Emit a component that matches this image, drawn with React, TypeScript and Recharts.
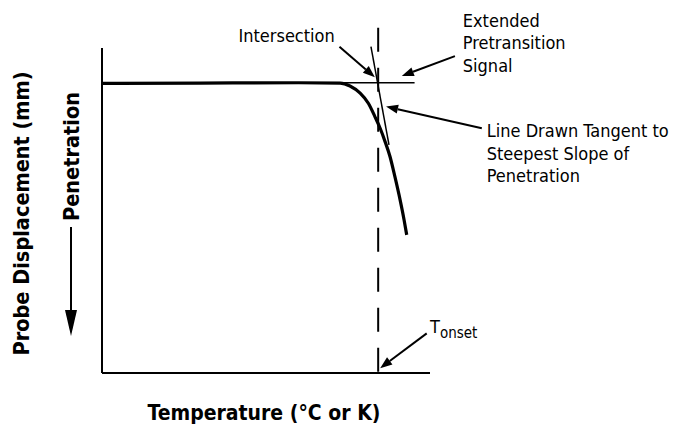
import { LineChart, Line, XAxis, YAxis, ReferenceLine, ReferenceDot } from "recharts";

// probe curve (x: temperature, y: displacement, both 0-100 scale)
const temperature = [0, 30, 60, 72.6, 75.6, 78.7, 81.2, 83.2, 84.8, 86.3, 87.8, 89.3, 90.9, 92.1, 92.9];
const displacement = [89.1, 89.2, 89.3, 89.2, 88.3, 86.1, 83.0, 78.9, 75.3, 71.2, 66.6, 60.4, 53.2, 47.1, 42.5];

// construction lines
const pretransitionExtension = [
  { x: 72, y: 89.3 },
  { x: 95.3, y: 89.3 },
];
const tangentLine = [
  { x: 82.0, y: 100.4 },
  { x: 87.5, y: 70.2 },
];
const onsetTemperature = 84.2;
const onsetLineRange = [106.2, 0];

// callouts
const calloutLabels = [
  { id: "intersection", lines: ["Intersection"], x: 41.6, y: 102.0 },
  { id: "signal", lines: ["Extended", "Pretransition", "Signal"], x: 110.0, y: 106.5 },
  { id: "tangent", lines: ["Line Drawn Tangent to", "Steepest Slope of", "Penetration"], x: 117.3, y: 72.6 },
];
const calloutArrows = [
  { id: "intersection", from: { x: 72.4, y: 100.4 }, to: { x: 83.2, y: 91.0 } },
  { id: "signal", from: { x: 107.6, y: 97.5 }, to: { x: 91.4, y: 91.4 } },
  { id: "tangent", from: { x: 115.8, y: 75.3 }, to: { x: 86.6, y: 82.0 } },
  { id: "onset", from: { x: 99.0, y: 12.2 }, to: { x: 84.8, y: 1.5 } },
];
const onsetLabel = { x: 100.0, y: 12.2 };

const chartData = temperature.map((t, i) => ({ t, d: displacement[i] }));

const FONT = '"DejaVu Sans Condensed", "DejaVu Sans", sans-serif';

function Arrow(props: any) {
  const { x1, y1, x2, y2 } = props;
  const len = Math.hypot(x2 - x1, y2 - y1) || 1;
  const ux = (x2 - x1) / len;
  const uy = (y2 - y1) / len;
  const head = 12;
  const half = 4.5;
  const bx = x2 - ux * head;
  const by = y2 - uy * head;
  return (
    <g>
      <line x1={x1} y1={y1} x2={bx} y2={by} stroke="#000" strokeWidth={2} />
      <polygon
        points={`${x2},${y2} ${bx - uy * half},${by + ux * half} ${bx + uy * half},${by - ux * half}`}
        fill="#000"
      />
    </g>
  );
}

function CalloutText({ cx, cy, lines }: { cx?: number; cy?: number; lines: string[] }) {
  return (
    <text x={cx} y={cy} fontFamily={FONT} fontSize={18} fill="#000">
      {lines.map((line, i) => (
        <tspan key={line} x={cx} dy={i === 0 ? 0 : 22.5}>
          {line}
        </tspan>
      ))}
    </text>
  );
}

function OnsetText({ cx, cy }: { cx?: number; cy?: number }) {
  return (
    <text x={cx} y={cy} fontFamily={FONT} fontSize={18} fill="#000">
      T
      <tspan fontSize={15} dy={4.5}>
        onset
      </tspan>
    </text>
  );
}

function LeftTitles(props: any) {
  const { x, y } = props.viewBox ?? { x: 0, y: 48 };
  const probeY = y + 165.5;
  const penY = y + 108.5;
  return (
    <g fontFamily={FONT} fontWeight="bold" fontSize={21.5} fill="#000">
      <text x={x + 28.5} y={probeY} textAnchor="middle" transform={`rotate(-90 ${x + 28.5} ${probeY})`}>
        Probe Displacement (mm)
      </text>
      <text x={x + 78.5} y={penY} textAnchor="middle" transform={`rotate(-90 ${x + 78.5} ${penY})`}>
        Penetration
      </text>
      <line x1={x + 71} y1={y + 179} x2={x + 71} y2={y + 264} stroke="#000" strokeWidth={2} />
      <polygon points={`${x + 65},${y + 262} ${x + 77},${y + 262} ${x + 71},${y + 288}`} fill="#000" />
    </g>
  );
}

function BottomTitle(props: any) {
  const { x, y, width } = props.viewBox ?? { x: 102, y: 373, width: 328 };
  return (
    <text x={x + width / 2 - 2} y={y + 47} textAnchor="middle" fontFamily={FONT} fontWeight="bold" fontSize={21} fill="#000">
      Temperature (°C or K)
    </text>
  );
}

export default function App() {
  return (
    <div style={{ width: 675, height: 424, background: "#fff" }}>
      <style>{"body{margin:0}"}</style>
      <LineChart width={675} height={424} data={chartData} margin={{ top: 48, right: 245, bottom: 0, left: 0 }}>
        <XAxis
          type="number"
          dataKey="t"
          domain={[0, 100]}
          tick={false}
          tickLine={false}
          height={51}
          axisLine={{ stroke: "#000", strokeWidth: 2 }}
          label={(p: any) => <BottomTitle {...p} />}
        />
        <YAxis
          type="number"
          domain={[0, 100]}
          tick={false}
          tickLine={false}
          width={102}
          axisLine={{ stroke: "#000", strokeWidth: 2 }}
          label={(p: any) => <LeftTitles {...p} />}
        />
        <ReferenceLine
          segment={[
            { x: onsetTemperature, y: onsetLineRange[0] },
            { x: onsetTemperature, y: onsetLineRange[1] },
          ]}
          ifOverflow="visible"
          stroke="#000"
          strokeWidth={2}
          strokeDasharray="24 16"
        />
        <ReferenceLine segment={pretransitionExtension} ifOverflow="visible" stroke="#000" strokeWidth={1.5} />
        <ReferenceLine segment={tangentLine} ifOverflow="visible" stroke="#000" strokeWidth={1.5} />
        <Line
          type="monotone"
          dataKey="d"
          stroke="#000"
          strokeWidth={3.2}
          dot={false}
          activeDot={false}
          isAnimationActive={false}
        />
        {calloutArrows.map((a) => (
          <ReferenceLine key={a.id} segment={[a.from, a.to]} ifOverflow="visible" shape={(p: any) => <Arrow {...p} />} />
        ))}
        {calloutLabels.map((c) => (
          <ReferenceDot
            key={c.id}
            x={c.x}
            y={c.y}
            r={0}
            ifOverflow="visible"
            shape={(p: any) => <CalloutText cx={p.cx} cy={p.cy} lines={c.lines} />}
          />
        ))}
        <ReferenceDot
          x={onsetLabel.x}
          y={onsetLabel.y}
          r={0}
          ifOverflow="visible"
          shape={(p: any) => <OnsetText cx={p.cx} cy={p.cy} />}
        />
      </LineChart>
    </div>
  );
}
